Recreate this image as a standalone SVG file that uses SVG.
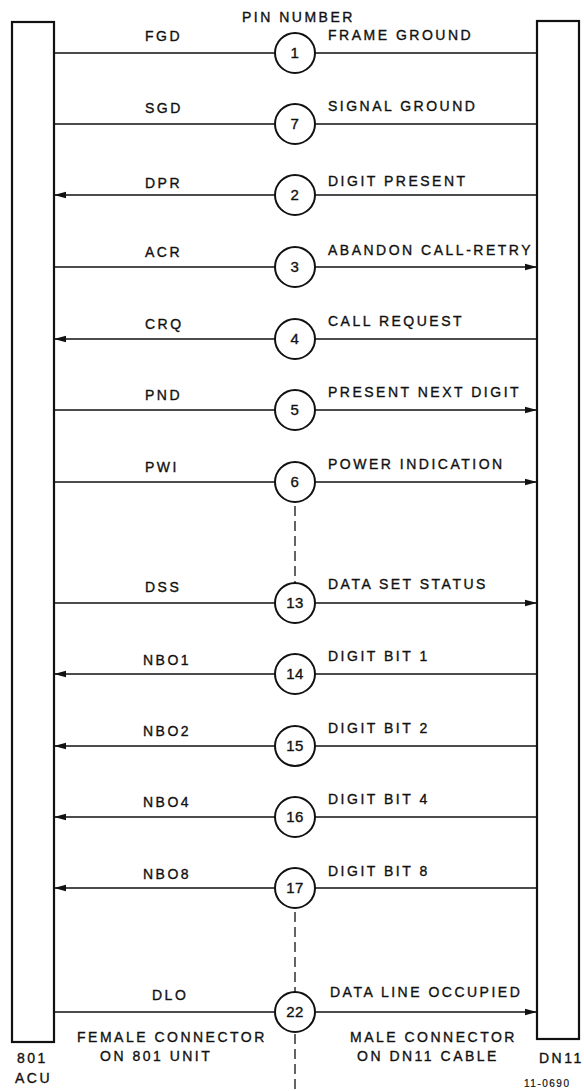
<svg xmlns="http://www.w3.org/2000/svg" width="584" height="1091" viewBox="0 0 584 1091">
<defs>
<style>
.t{font-family:"Liberation Sans",Arial,sans-serif;font-size:14px;letter-spacing:2.5px;fill:#111;stroke:#111;stroke-width:0.35}
.n{font-family:"Liberation Sans",Arial,sans-serif;font-size:15px;letter-spacing:0.5px;fill:#111;stroke:#111;stroke-width:0.35;text-anchor:middle}
.s{font-family:"Liberation Sans",Arial,sans-serif;font-size:10px;letter-spacing:1.5px;fill:#111;stroke:#111;stroke-width:0.2}
.box{fill:#fff;stroke:#111;stroke-width:2.2}
.pin{fill:#fff;stroke:#111;stroke-width:2}
.w{fill:none;stroke:#111;stroke-width:1.5}
.d{fill:none;stroke:#111;stroke-width:1.3;stroke-dasharray:10 5}
</style>
<marker id="ah" viewBox="0 0 12 8" refX="12" refY="4" markerWidth="12" markerHeight="8" markerUnits="userSpaceOnUse" orient="auto">
<path d="M0,0.8 L12,4 L0,7.2 Z" fill="#111"/>
</marker>
</defs>
<rect width="584" height="1091" fill="#fff"/>

<g id="acu">
<rect class="box" x="12" y="22" width="42" height="1020"/>
<text class="t" x="17" y="1063">801</text>
<text class="t" x="15" y="1083">ACU</text>
</g>
<g id="dn11">
<rect class="box" x="537" y="21" width="42" height="1018"/>
<text class="t" x="539" y="1063">DN11</text>
</g>

<g id="connectors">
<path class="w" d="M54,53 H275 M315,53 H537"/>
<path class="w" d="M54,124 H275 M315,124 H537"/>
<path class="w" d="M275,195 H54" marker-end="url(#ah)"/><path class="w" d="M315,195 H537"/>
<path class="w" d="M54,267 H275"/><path class="w" d="M315,267 H537" marker-end="url(#ah)"/>
<path class="w" d="M275,339 H54" marker-end="url(#ah)"/><path class="w" d="M315,339 H537"/>
<path class="w" d="M54,410 H275"/><path class="w" d="M315,410 H537" marker-end="url(#ah)"/>
<path class="w" d="M54,482 H275"/><path class="w" d="M315,482 H537" marker-end="url(#ah)"/>
<path class="w" d="M54,603 H275"/><path class="w" d="M315,603 H537" marker-end="url(#ah)"/>
<path class="w" d="M275,674 H54" marker-end="url(#ah)"/><path class="w" d="M315,674 H537"/>
<path class="w" d="M275,746 H54" marker-end="url(#ah)"/><path class="w" d="M315,746 H537"/>
<path class="w" d="M275,817 H54" marker-end="url(#ah)"/><path class="w" d="M315,817 H537"/>
<path class="w" d="M275,888 H54" marker-end="url(#ah)"/><path class="w" d="M315,888 H537"/>
<path class="w" d="M54,1012 H275"/><path class="w" d="M315,1012 H537" marker-end="url(#ah)"/>
<path class="d" d="M295,506 V583"/>
<path class="d" d="M295,912 V992"/>
<path class="d" d="M295,1034 V1091"/>
</g>

<text class="t" x="242" y="22">PIN NUMBER</text>

<g id="pin1"><circle class="pin" cx="295" cy="53" r="20"/><text class="n" x="295" y="58">1</text>
<text class="t" x="145" y="41">FGD</text><text class="t" x="328" y="40">FRAME GROUND</text></g>
<g id="pin7"><circle class="pin" cx="295" cy="124" r="20"/><text class="n" x="295" y="129">7</text>
<text class="t" x="145" y="113">SGD</text><text class="t" x="328" y="111">SIGNAL GROUND</text></g>
<g id="pin2"><circle class="pin" cx="295" cy="195" r="20"/><text class="n" x="295" y="200">2</text>
<text class="t" x="145" y="188">DPR</text><text class="t" x="328" y="186">DIGIT PRESENT</text></g>
<g id="pin3"><circle class="pin" cx="295" cy="267" r="20"/><text class="n" x="295" y="272">3</text>
<text class="t" x="145" y="257">ACR</text><text class="t" x="328" y="255">ABANDON CALL-RETRY</text></g>
<g id="pin4"><circle class="pin" cx="295" cy="339" r="20"/><text class="n" x="295" y="344">4</text>
<text class="t" x="145" y="329">CRQ</text><text class="t" x="328" y="326">CALL REQUEST</text></g>
<g id="pin5"><circle class="pin" cx="295" cy="410" r="20"/><text class="n" x="295" y="415">5</text>
<text class="t" x="145" y="400">PND</text><text class="t" x="328" y="397">PRESENT NEXT DIGIT</text></g>
<g id="pin6"><circle class="pin" cx="295" cy="482" r="20"/><text class="n" x="295" y="487">6</text>
<text class="t" x="145" y="472">PWI</text><text class="t" x="328" y="469">POWER INDICATION</text></g>
<g id="pin13"><circle class="pin" cx="295" cy="603" r="20"/><text class="n" x="295" y="608">13</text>
<text class="t" x="145" y="592">DSS</text><text class="t" x="328" y="589">DATA SET STATUS</text></g>
<g id="pin14"><circle class="pin" cx="295" cy="674" r="20"/><text class="n" x="295" y="679">14</text>
<text class="t" x="143" y="665">NBO1</text><text class="t" x="328" y="661">DIGIT BIT 1</text></g>
<g id="pin15"><circle class="pin" cx="295" cy="746" r="20"/><text class="n" x="295" y="751">15</text>
<text class="t" x="143" y="736">NBO2</text><text class="t" x="328" y="733">DIGIT BIT 2</text></g>
<g id="pin16"><circle class="pin" cx="295" cy="817" r="20"/><text class="n" x="295" y="822">16</text>
<text class="t" x="143" y="807">NBO4</text><text class="t" x="328" y="804">DIGIT BIT 4</text></g>
<g id="pin17"><circle class="pin" cx="295" cy="888" r="20"/><text class="n" x="295" y="893">17</text>
<text class="t" x="143" y="879">NBO8</text><text class="t" x="328" y="876">DIGIT BIT 8</text></g>
<g id="pin22"><circle class="pin" cx="295" cy="1012" r="20"/><text class="n" x="295" y="1017">22</text>
<text class="t" x="152" y="1000">DLO</text><text class="t" x="330" y="997">DATA LINE OCCUPIED</text></g>

<g id="notes">
<text class="t" x="77" y="1042">FEMALE CONNECTOR</text>
<text class="t" x="100" y="1061">ON 801 UNIT</text>
<text class="t" x="350" y="1042">MALE CONNECTOR</text>
<text class="t" x="357" y="1061">ON DN11 CABLE</text>
<text class="s" x="524" y="1087">11-0690</text>
</g>
</svg>
